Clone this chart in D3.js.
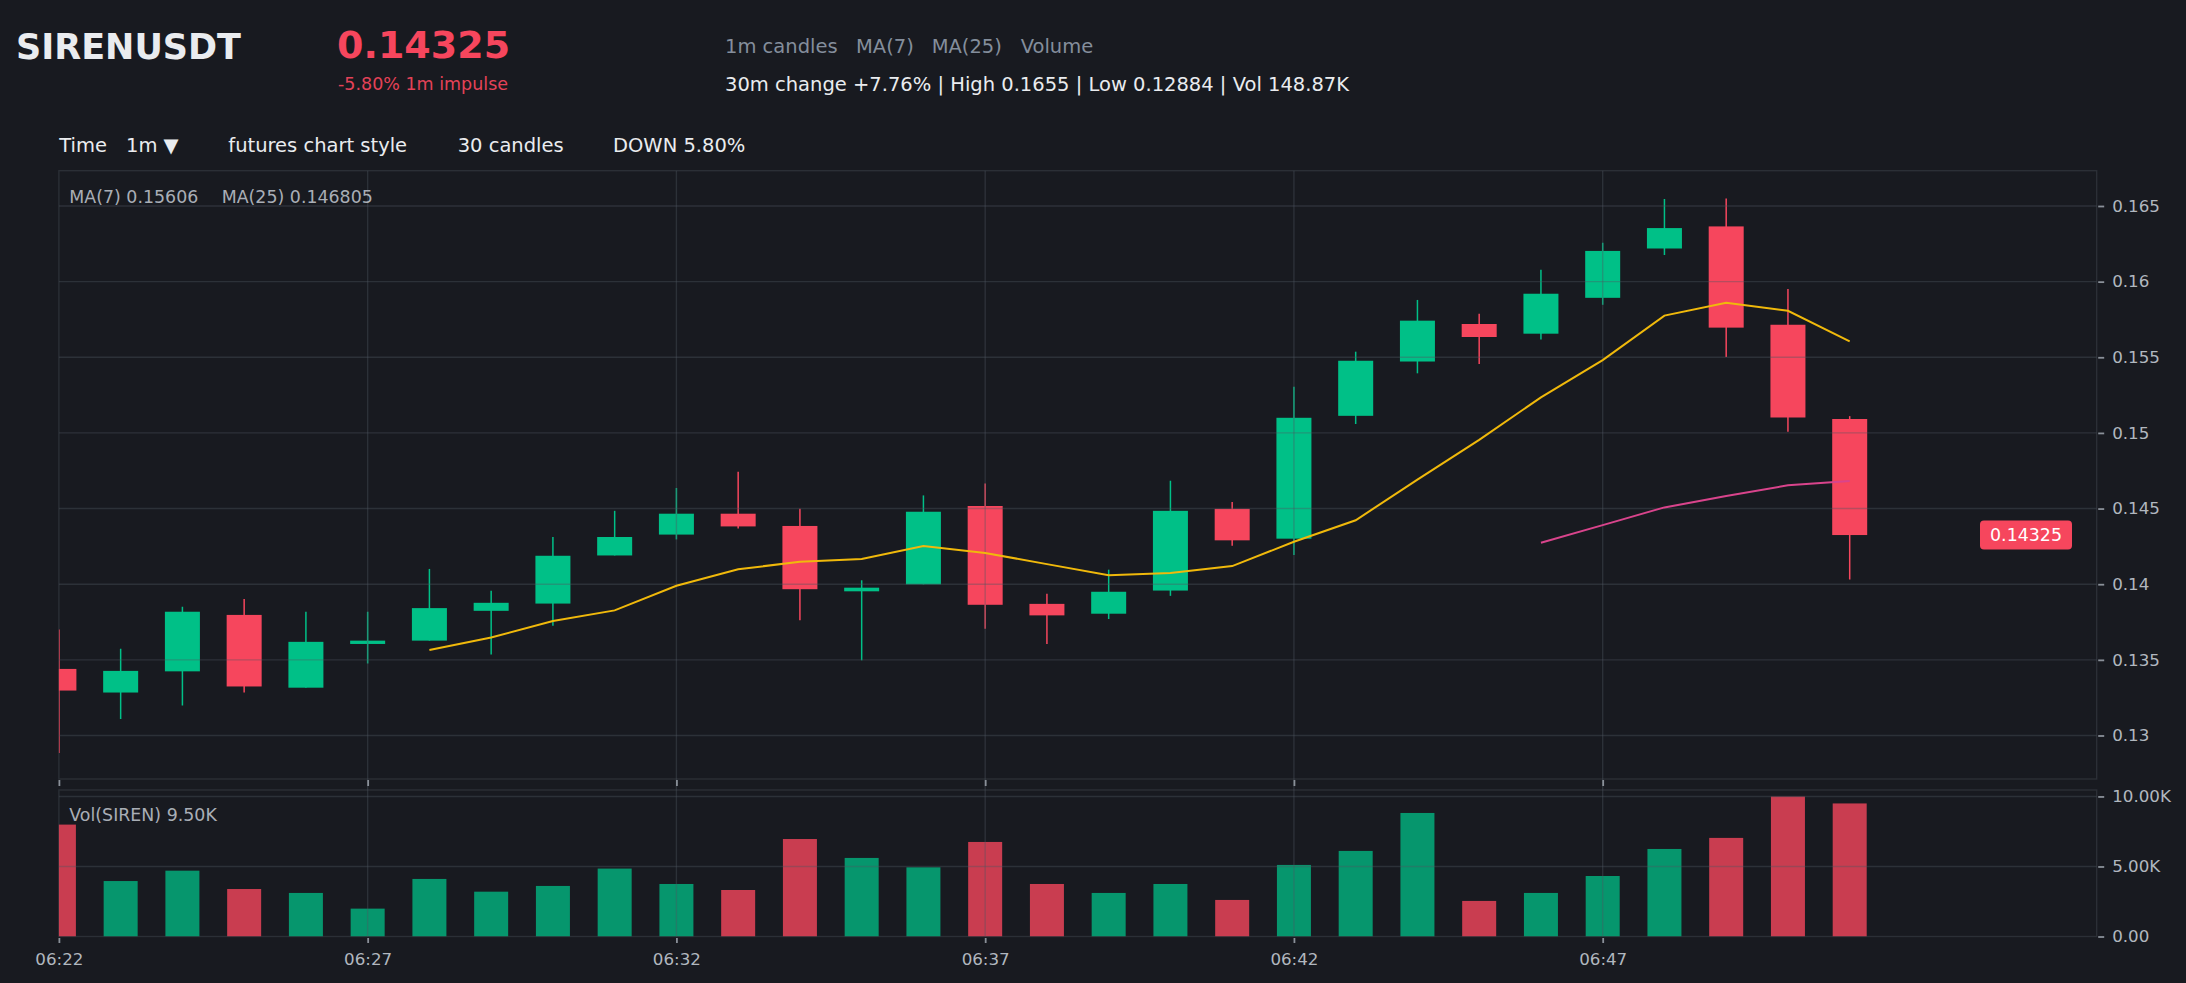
<!DOCTYPE html>
<html>
<head>
<meta charset="utf-8">
<script src="https://cdn.jsdelivr.net/npm/d3@7"></script>
<style>
  html, body { margin: 0; padding: 0; background: #181a20; overflow: hidden; }
  svg { display: block; font-family: "DejaVu Sans", sans-serif; }
</style>
</head>
<body>
<div id="chart"></div>
<script>
// 1m candles, 06:22 .. 06:51
const times = ['06:22', '06:23', '06:24', '06:25', '06:26', '06:27', '06:28', '06:29', '06:30', '06:31',
  '06:32', '06:33', '06:34', '06:35', '06:36', '06:37', '06:38', '06:39', '06:40', '06:41',
  '06:42', '06:43', '06:44', '06:45', '06:46', '06:47', '06:48', '06:49', '06:50', '06:51'];
const opens = [0.13440, 0.13284, 0.13424, 0.13797, 0.13316, 0.13605, 0.13627, 0.13824, 0.13872, 0.14190,
  0.14328, 0.14466, 0.14385, 0.13953, 0.13999, 0.14517, 0.13870, 0.13805, 0.13958, 0.14498,
  0.14301, 0.15113, 0.15472, 0.15720, 0.15656, 0.15893, 0.16219, 0.16365, 0.15715, 0.15092];
const highs = [0.13700, 0.13573, 0.13851, 0.13902, 0.13818, 0.13818, 0.14101, 0.13956, 0.14312, 0.14485,
  0.14636, 0.14744, 0.14498, 0.14026, 0.14587, 0.14665, 0.13937, 0.14096, 0.14684, 0.14544,
  0.15305, 0.15537, 0.15879, 0.15788, 0.16079, 0.16257, 0.16546, 0.16550, 0.15952, 0.15111];
const lows = [0.12884, 0.13109, 0.13198, 0.13284, 0.13316, 0.13476, 0.13627, 0.13535, 0.13726, 0.14190,
  0.14296, 0.14369, 0.13762, 0.13497, 0.13999, 0.13705, 0.13605, 0.13770, 0.13923, 0.14255,
  0.14193, 0.15059, 0.15394, 0.15456, 0.15618, 0.15847, 0.16176, 0.15502, 0.15008, 0.14031];
const closes = [0.13297, 0.13427, 0.13818, 0.13324, 0.13619, 0.13627, 0.13842, 0.13877, 0.14188, 0.14312,
  0.14466, 0.14382, 0.13967, 0.13977, 0.14479, 0.13864, 0.13794, 0.13950, 0.14485, 0.14290,
  0.15100, 0.15477, 0.15742, 0.15634, 0.15920, 0.16203, 0.16354, 0.15696, 0.15102, 0.14325];
const volumes = [7990, 3960, 4700, 3390, 3110, 1990, 4110, 3200, 3610, 4850,
  3750, 3320, 6960, 5610, 4940, 6750, 3750, 3110, 3750, 2610,
  5110, 6110, 8820, 2540, 3110, 4320, 6250, 7040, 9990, 9500];

const priceTicks = [0.13, 0.135, 0.14, 0.145, 0.15, 0.155, 0.16, 0.165];
const volumeTicks = [0, 5000, 10000];
const timeTicks = ['06:22', '06:27', '06:32', '06:37', '06:42', '06:47'];
const maPeriods = [7, 25];
const maLegend = ['MA(7) 0.15606', 'MA(25) 0.146805'];

const headerTags = ['1m candles', 'MA(7)', 'MA(25)', 'Volume'];
const toolbarItems = ['Time', '1m \u25BC', 'futures chart style', '30 candles', 'DOWN 5.80%'];

const config = {
  width: 2186,
  height: 983,
  bg: '#181a20',
  border: '#2b2f36',
  grid: 'rgba(80,86,96,0.38)',
  up: '#00c087',
  down: '#f6465d',
  maColors: ['#f0b90b', '#d9448c'],
  text: '#eaecef',
  muted: '#848e9c',
  axisText: '#b1b7bf',
  left: 58.9,
  right: 2096.7,
  priceTop: 170.7,
  priceBottom: 779,
  volTop: 790,
  volBottom: 936.5,
  bodyWidth: 35,
  barWidth: 34,
  axisFont: 16.7
};

const parseTime = d3.timeParse('%H:%M');

const candles = times.map((t, i)=> ({
  time: parseTime(t),
  open: opens[i],
  high: highs[i],
  low: lows[i],
  close: closes[i],
  volume: volumes[i]
}));

const movingAverage = (period)=> candles.map((d, i)=> {
  if (i < period - 1) return null;
  return {time: d.time, value: d3.mean(closes.slice(i - period + 1, i + 1))};
}).filter((d)=> d);

const x = d3.scaleTime()
  .domain([parseTime('06:22'), parseTime('06:55')])
  .range([config.left, config.right]);
const y = d3.scaleLinear()
  .domain([0.127124, 0.167333])
  .range([config.priceBottom, config.priceTop]);
const yv = d3.scaleLinear()
  .domain([0, 10460])
  .range([config.volBottom, config.volTop]);

const svg = d3.select('#chart').append('svg')
  .attr('width', config.width)
  .attr('height', config.height);

svg.append('rect').attr('width', config.width).attr('height', config.height).attr('fill', config.bg);

const defs = svg.append('defs');
defs.append('clipPath').attr('id', 'clip-price').append('rect')
  .attr('x', config.left).attr('y', config.priceTop)
  .attr('width', config.right - config.left).attr('height', config.priceBottom - config.priceTop);
defs.append('clipPath').attr('id', 'clip-vol').append('rect')
  .attr('x', config.left).attr('y', config.volTop)
  .attr('width', config.right - config.left).attr('height', config.volBottom - config.volTop);

function drawHeader() {
  svg.append('text').attr('x', 16).attr('y', 59)
    .attr('font-size', 35).attr('font-weight', 'bold').attr('fill', config.text)
    .text('SIRENUSDT');
  svg.append('text').attr('x', 337).attr('y', 57.7)
    .attr('font-size', 38).attr('font-weight', 'bold').attr('fill', config.down)
    .text(d3.format('.5f')(closes[closes.length - 1]));
  svg.append('text').attr('x', 338).attr('y', 90)
    .attr('font-size', 17.5).attr('fill', config.down).attr('opacity', 0.92)
    .text('-5.80% 1m impulse');

  const tagX = [725, 856, 931.7, 1020.7];
  svg.append('g').selectAll('text')
    .data(headerTags)
    .join('text')
    .attr('x', (d, i)=> tagX[i]).attr('y', 53.3)
    .attr('font-size', 19.5).attr('fill', config.muted)
    .text((d)=> d);

  svg.append('text').attr('x', 725).attr('y', 90.7)
    .attr('font-size', 19.5).attr('fill', config.text)
    .text('30m change +7.76% | High 0.1655 | Low 0.12884 | Vol 148.87K');

  const toolX = [59.3, 126, 228.3, 457.7, 613];
  svg.append('g').selectAll('text')
    .data(toolbarItems)
    .join('text')
    .attr('x', (d, i)=> toolX[i]).attr('y', 152.3)
    .attr('font-size', 19.5).attr('fill', config.text)
    .text((d)=> d);
}

function drawPanes() {
  [[config.priceTop, config.priceBottom], [config.volTop, config.volBottom]].forEach(([t, b])=> {
    svg.append('rect')
      .attr('x', config.left).attr('y', t)
      .attr('width', config.right - config.left).attr('height', b - t)
      .attr('fill', 'none').attr('stroke', config.border).attr('stroke-width', 1.4);
  });
}

function drawCandles() {
  const g = svg.append('g').attr('clip-path', 'url(#clip-price)');
  const color = (d)=> (d.close >= d.open ? config.up : config.down);

  g.selectAll('line.wick')
    .data(candles)
    .join('line')
    .attr('class', 'wick')
    .attr('x1', (d)=> x(d.time)).attr('x2', (d)=> x(d.time))
    .attr('y1', (d)=> y(d.high)).attr('y2', (d)=> y(d.low))
    .attr('stroke', color).attr('stroke-width', 1.5);

  g.selectAll('rect.body')
    .data(candles)
    .join('rect')
    .attr('class', 'body')
    .attr('x', (d)=> x(d.time) - config.bodyWidth / 2)
    .attr('y', (d)=> y(Math.max(d.open, d.close)))
    .attr('width', config.bodyWidth)
    .attr('height', (d)=> Math.max(2, Math.abs(y(d.open) - y(d.close))))
    .attr('fill', color);
}

function drawVolume() {
  const g = svg.append('g').attr('clip-path', 'url(#clip-vol)');
  g.selectAll('rect')
    .data(candles)
    .join('rect')
    .attr('x', (d)=> x(d.time) - config.barWidth / 2)
    .attr('y', (d)=> yv(d.volume))
    .attr('width', config.barWidth)
    .attr('height', (d)=> yv(0) - yv(d.volume))
    .attr('fill', (d)=> (d.close >= d.open ? config.up : config.down))
    .attr('opacity', (d)=> (d.close >= d.open ? 0.75 : 0.8));
}

function drawGrid() {
  const g = svg.append('g');
  g.selectAll('line.hp')
    .data(priceTicks)
    .join('line')
    .attr('x1', config.left).attr('x2', config.right)
    .attr('y1', (d)=> y(d)).attr('y2', (d)=> y(d))
    .attr('stroke', config.grid).attr('stroke-width', 1.4);
  g.selectAll('line.hv')
    .data(volumeTicks.slice(1))
    .join('line')
    .attr('x1', config.left).attr('x2', config.right)
    .attr('y1', (d)=> yv(d)).attr('y2', (d)=> yv(d))
    .attr('stroke', config.grid).attr('stroke-width', 1.4);
  g.selectAll('line.vt')
    .data(timeTicks.slice(1).map(parseTime))
    .join('line')
    .attr('x1', (d)=> x(d)).attr('x2', (d)=> x(d))
    .attr('y1', config.priceTop).attr('y2', config.volBottom)
    .attr('stroke', config.grid).attr('stroke-width', 1.4);
}

function drawMovingAverages() {
  const g = svg.append('g').attr('clip-path', 'url(#clip-price)');
  const line = d3.line().x((d)=> x(d.time)).y((d)=> y(d.value));
  maPeriods.forEach((p, i)=> {
    g.append('path')
      .datum(movingAverage(p))
      .attr('d', line)
      .attr('fill', 'none')
      .attr('stroke', config.maColors[i])
      .attr('stroke-width', 2);
  });

  svg.append('text').attr('x', 69.3).attr('y', 203.3)
    .attr('font-size', 17.4).attr('fill', '#a9aeb6')
    .text(maLegend[0]);
  svg.append('text').attr('x', 221.7).attr('y', 203.3)
    .attr('font-size', 17.4).attr('fill', '#a9aeb6')
    .text(maLegend[1]);
  svg.append('text').attr('x', 69.3).attr('y', 820.7)
    .attr('font-size', 17.4).attr('fill', '#a9aeb6')
    .text(`Vol(SIREN) ${(volumes[volumes.length - 1] / 1000).toFixed(2)}K`);
}

function drawAxes() {
  const priceAxis = d3.axisRight(y)
    .tickValues(priceTicks)
    .tickSize(6)
    .tickPadding(8)
    .tickFormat((d)=> String(+d.toFixed(3)));
  const pa = svg.append('g')
    .attr('transform', `translate(${config.right + 1.5},0)`)
    .call(priceAxis);

  const volAxis = d3.axisRight(yv)
    .tickValues(volumeTicks)
    .tickSize(6)
    .tickPadding(8)
    .tickFormat((d)=> (d === 0 ? '0.00' : `${(d / 1000).toFixed(2)}K`));
  const va = svg.append('g')
    .attr('transform', `translate(${config.right + 1.5},0)`)
    .call(volAxis);

  const timeAxisTop = d3.axisBottom(x)
    .tickValues(timeTicks.map(parseTime))
    .tickSize(6)
    .tickFormat('');
  const ta = svg.append('g')
    .attr('transform', `translate(0,${config.priceBottom + 1})`)
    .call(timeAxisTop);

  const timeAxis = d3.axisBottom(x)
    .tickValues(timeTicks.map(parseTime))
    .tickSize(5)
    .tickPadding(10)
    .tickFormat(d3.timeFormat('%H:%M'));
  const tb = svg.append('g')
    .attr('transform', `translate(0,${config.volBottom + 1.5})`)
    .call(timeAxis);

  [pa, va, ta, tb].forEach((a)=> {
    a.select('.domain').remove();
    a.selectAll('.tick line').attr('stroke', '#8a9099').attr('stroke-width', 1.8);
    a.selectAll('.tick text')
      .attr('fill', config.axisText)
      .attr('font-size', config.axisFont)
      .attr('font-family', '"DejaVu Sans", sans-serif');
  });
}

function drawPriceTag() {
  const last = closes[closes.length - 1];
  const g = svg.append('g').attr('transform', `translate(2026,${y(last)})`);
  g.append('rect')
    .attr('x', -46).attr('y', -14.5)
    .attr('width', 92).attr('height', 29)
    .attr('rx', 4)
    .attr('fill', config.down);
  g.append('text')
    .attr('text-anchor', 'middle')
    .attr('dy', '0.36em')
    .attr('font-size', 17.4)
    .attr('fill', '#ffffff')
    .text(d3.format('.5f')(last));
}

drawHeader();
drawPanes();
drawCandles();
drawVolume();
drawGrid();
drawMovingAverages();
drawAxes();
drawPriceTag();
</script>
</body>
</html>
